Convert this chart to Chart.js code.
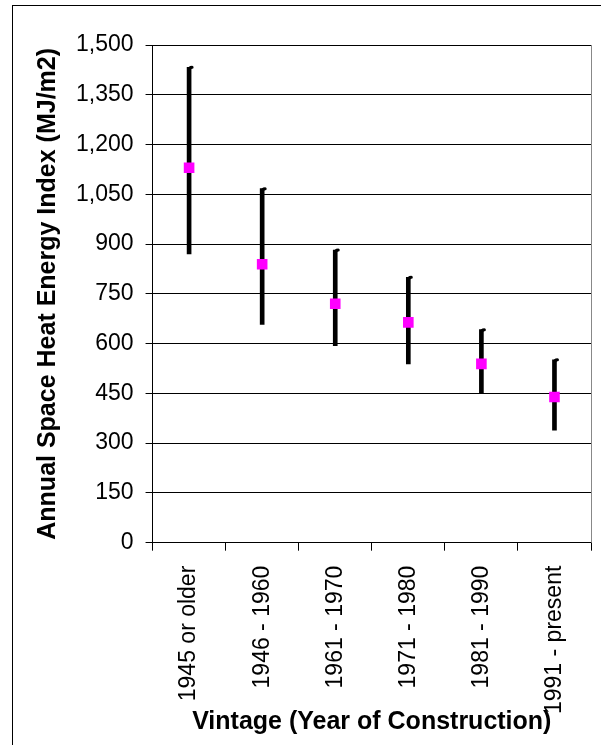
<!DOCTYPE html>
<html>
<head>
<meta charset="utf-8">
<script src="https://cdn.jsdelivr.net/npm/chart.js@4/dist/chart.umd.min.js"></script>
<style>
  html, body { margin: 0; padding: 0; background: #fff; overflow: hidden; }
  #frame { position: absolute; left: 12px; top: 5px; width: 620px; height: 780px; border: 1px solid #000; }
  #wrap { position: absolute; left: 0; top: 0; width: 601px; height: 745px; }
</style>
</head>
<body>
<div id="frame"></div>
<div id="wrap"><canvas id="chart" width="601" height="745"></canvas></div>
<script>
// Categorias e valores
const vintages = ['1945 or older', '1946 - 1960', '1961 - 1970', '1971 - 1980', '1981 - 1990', '1991 - present'];
const lowValues = [870, 658, 594, 539, 452, 339];
const highValues = [1433, 1067, 882, 800, 642, 551];
const meanValues = [1130, 839, 720, 664, 539, 439];
const yTicks = [0, 150, 300, 450, 600, 750, 900, 1050, 1200, 1350, 1500];

const FONT = "'Liberation Sans', Arial, sans-serif";

// Pequeno gancho no topo de cada barra + borda direita da área do gráfico
const extras = {
    id: 'extras',
    afterDatasetsDraw(chart) {
        const ctx = chart.ctx;
        const meta = chart.getDatasetMeta(0);
        ctx.save();
        ctx.strokeStyle = '#000';
        ctx.lineWidth = 3;
        ctx.lineCap = 'round';
        meta.data.forEach(bar => {
            ctx.beginPath();
            ctx.moveTo(bar.x, bar.y + 3);
            ctx.quadraticCurveTo(bar.x, bar.y, bar.x + 3, bar.y);
            ctx.stroke();
        });
        ctx.restore();
    },
    beforeDatasetsDraw(chart) {
        const a = chart.chartArea;
        const ctx = chart.ctx;
        ctx.save();
        ctx.strokeStyle = '#888';
        ctx.lineWidth = 1;
        ctx.beginPath();
        ctx.moveTo(Math.round(a.right) + 0.5, a.top);
        ctx.lineTo(Math.round(a.right) + 0.5, a.bottom);
        ctx.stroke();
        ctx.restore();
    }
};

new Chart(document.getElementById('chart').getContext('2d'), {
    data: {
        labels: vintages,
        datasets: [
            {
                type: 'bar',
                data: vintages.map((v, i) => [lowValues[i], highValues[i]]),
                backgroundColor: '#000',
                barThickness: 4,
                borderWidth: 0,
                borderSkipped: false,
                order: 2
            },
            {
                type: 'line',
                data: meanValues,
                showLine: false,
                pointStyle: 'rect',
                pointRadius: 7.5,
                backgroundColor: '#ff00ff',
                borderColor: '#ff00ff',
                borderWidth: 0,
                order: 1
            }
        ]
    },
    plugins: [extras],
    options: {
        responsive: false,
        animation: false,
        layout: { padding: { left: 33, top: 45, right: 10, bottom: 8 } },
        plugins: {
            legend: { display: false },
            tooltip: { enabled: false }
        },
        scales: {
            x: {
                type: 'category',
                offset: true,
                grid: {
                    offset: true,
                    drawOnChartArea: false,
                    drawTicks: true,
                    tickLength: 8,
                    color: '#000'
                },
                border: { color: '#000', width: 1 },
                ticks: {
                    minRotation: 90,
                    maxRotation: 90,
                    color: '#000',
                    padding: 15,
                    font: { family: FONT, size: 23 }
                },
                title: {
                    display: true,
                    text: 'Vintage (Year of Construction)',
                    color: '#000',
                    padding: { top: -22, bottom: 0 },
                    font: { family: FONT, size: 25, weight: 'bold' }
                }
            },
            y: {
                min: 0,
                max: 1500,
                afterBuildTicks: axis => { axis.ticks = yTicks.map(v => ({ value: v })); },
                grid: {
                    color: '#000',
                    lineWidth: 1,
                    drawTicks: true,
                    tickLength: 7
                },
                border: { color: '#000', width: 1 },
                ticks: {
                    color: '#000',
                    padding: 12,
                    font: { family: FONT, size: 23 },
                    callback: v => v.toLocaleString('en-US')
                },
                title: {
                    display: true,
                    text: 'Annual Space Heat Energy Index (MJ/m2)',
                    color: '#000',
                    padding: { top: 0, bottom: 1 },
                    font: { family: FONT, size: 25, weight: 'bold' }
                }
            }
        }
    }
});
</script>
</body>
</html>
